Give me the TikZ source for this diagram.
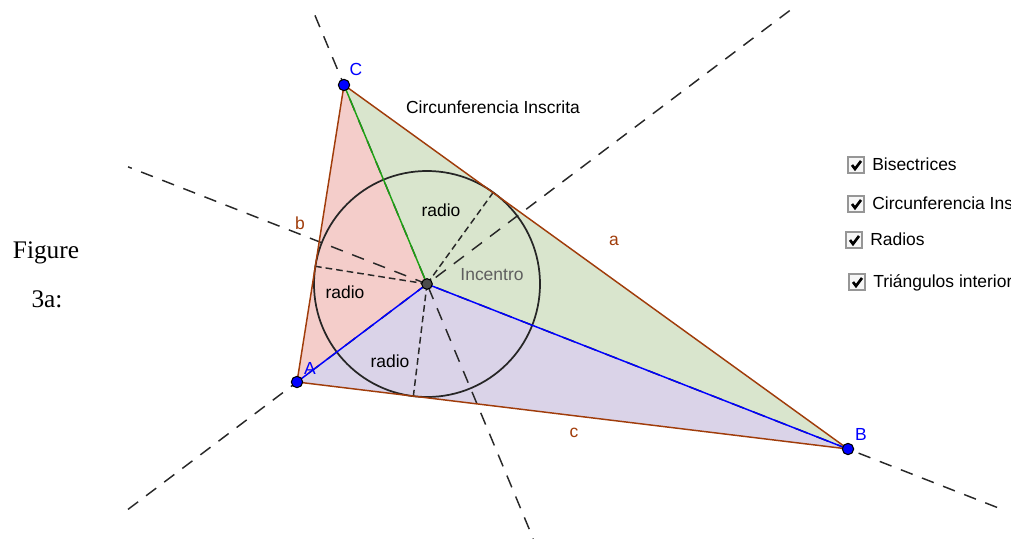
\documentclass[tikz,border=0pt]{standalone}
\usepackage{fontspec}
\setmainfont{Liberation Sans}
\newfontfamily\serifTNR{Liberation Serif}
\usetikzlibrary{calc}
\definecolor{sidebrown}{RGB}{160,60,10}
\definecolor{pinkfill}{RGB}{244,205,202}
\definecolor{greenfill}{RGB}{217,229,205}
\definecolor{purplefill}{RGB}{218,211,232}
\definecolor{segGreen}{RGB}{30,160,20}
\definecolor{segBlue}{RGB}{0,0,255}
\definecolor{lineGray}{RGB}{40,40,40}
\definecolor{incGray}{RGB}{95,95,95}
\definecolor{boxBorder}{RGB}{150,150,150}
\definecolor{boxFill}{RGB}{246,246,246}
\begin{document}
\begin{tikzpicture}[x=0.75pt,y=-0.75pt,
  bis/.style={draw=lineGray,line width=1.1pt,dash pattern=on 9.5pt off 7.5pt},
  rad/.style={draw=lineGray,line width=1.1pt,dash pattern=on 5pt off 3pt},
  side/.style={draw=sidebrown,line width=1.1pt,line join=round},
  circ/.style={draw=black!85,line width=1.3pt},
  vpt/.style={circle,fill=segBlue,draw=black,line width=0.8pt,minimum size=8.5pt,inner sep=0pt},
  ipt/.style={circle,fill=black!70,draw=black,line width=0.8pt,minimum size=8pt,inner sep=0pt},
  lbl/.style={inner sep=0pt,font=\fontsize{13.1pt}{15pt}\selectfont},
  cbox/.style={draw=boxBorder,fill=boxFill,line width=0.8pt,minimum size=12pt,inner sep=0pt},
  chk/.style={draw=black,line width=2pt,line join=miter},
  figtxt/.style={inner sep=0pt,font=\serifTNR\fontsize{19pt}{22pt}\selectfont}
]
\useasboundingbox (0,0) rectangle (1011,545);
\clip (0,0) rectangle (1011,545);
% vertices and incenter
\coordinate (A) at (297,382);
\coordinate (B) at (848,449);
\coordinate (C) at (344,85);
\coordinate (I) at (427,284);
\coordinate (Ta) at ($(B)!(I)!(C)$);
\coordinate (Tb) at ($(C)!(I)!(A)$);
\coordinate (Tc) at ($(A)!(I)!(B)$);
% bisector end points
\coordinate (bA1) at ($(A)!-1.3!(I)$);
\coordinate (bA2) at ($(A)!3.79!(I)$);
\coordinate (bB1) at ($(B)!-0.354!(I)$);
\coordinate (bB2) at ($(B)!1.71!(I)$);
\coordinate (bC1) at ($(C)!-0.35!(I)$);
\coordinate (bC2) at ($(C)!2.28!(I)$);
% interior triangles
\fill[pinkfill] (A) -- (I) -- (C) -- cycle;
\fill[greenfill] (C) -- (I) -- (B) -- cycle;
\fill[purplefill] (A) -- (I) -- (B) -- cycle;
% bisectors
\draw[bis] (bA1) -- (bA2);
\draw[bis] (bB1) -- (bB2);
\draw[bis] (bC1) -- (bC2);
% radii
\draw[rad] (I) -- (Ta);
\draw[rad] (I) -- (Tb);
\draw[rad] (I) -- (Tc);
% incircle
\draw[circ] (I) circle [radius=84.75pt];
% sides
\draw[side] (A) -- (B) -- (C) -- cycle;
% segments from incenter
\draw[draw=segGreen,line width=1.1pt] (I) -- (C);
\draw[draw=segBlue,line width=1.1pt] (I) -- (A);
\draw[draw=segBlue,line width=1.1pt] (I) -- (B);
% points
\node[vpt] (pA) at (A) {};
\node[vpt] (pB) at (B) {};
\node[vpt] (pC) at (C) {};
\node[ipt] (pI) at (I) {};
% labels
\node[lbl,text=segBlue] (lC) at (356,69) {C};
\node[lbl,text=segBlue] (lA) at (310,368) {A};
\node[lbl,text=segBlue] (lB) at (861,434) {B};
\node[lbl,text=sidebrown] (la) at (614,241) {a};
\node[lbl,text=sidebrown] (lb) at (300,223) {b};
\node[lbl,text=sidebrown] (lc) at (574,433) {c};
\node[lbl] (r1) at (441,210) {radio};
\node[lbl] (r2) at (345,292) {radio};
\node[lbl] (r3) at (390,361) {radio};
\node[lbl,text=incGray] (inc) at (492,275) {Incentro};
\node[lbl] (ci) at (493,107) {Circunferencia Inscrita};
% figure caption
\node[figtxt] (fig1) at (46,253) {Figure};
\node[figtxt] (fig2) at (47,299) {3a:};
% checkboxes (labels run past the right edge, as in the reference)
\foreach \n/\x/\y/\t in {1/856/165/Bisectrices,2/856/204/Circunferencia Inscrita,3/854/240/Radios,4/857/282/Triángulos interiores}{
  \node[cbox] (cb\n) at (\x,\y) {};
  \draw[chk] ($(cb\n.center)+(-4,0)$) -- ($(cb\n.center)+(-1,4)$) -- ($(cb\n.center)+(5,-4)$);
  \node[lbl,anchor=base west] (lb\n) at ($(cb\n.center)+(16,6)$) {\t};
}
\end{tikzpicture}
\end{document}
